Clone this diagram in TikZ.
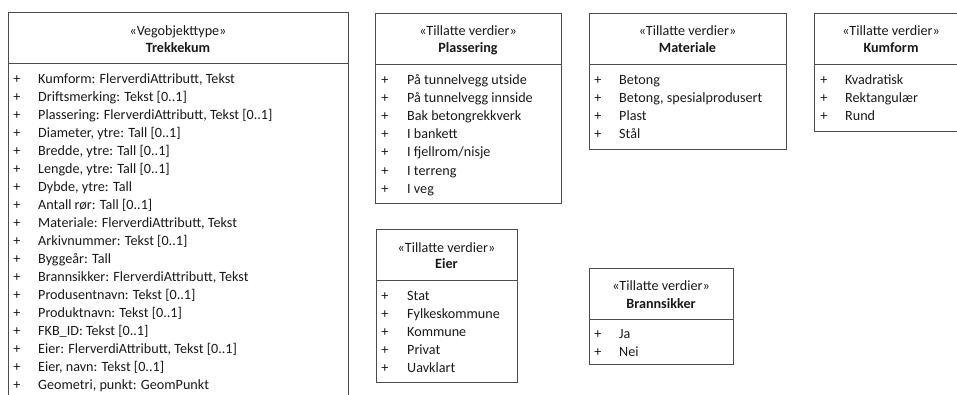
\documentclass[tikz,border=0pt]{standalone}
\usepackage{fontspec}
\setmainfont{Carlito}

\begin{document}
\begin{tikzpicture}[x=1bp, y=-1bp,
    every node/.style={inner sep=0pt, font=\fontsize{14.2}{17}\selectfont, text=black!90},
    frame/.style={draw=black!70, line width=0.9bp},
    stereo/.style={anchor=base},
    title/.style={anchor=base, font=\fontsize{14.2}{17}\selectfont\bfseries},
    plus/.style={anchor=base},
    item/.style={anchor=base west}]
  \useasboundingbox (0,0) rectangle (957,394);
  \clip (0,0) rectangle (957,394);

  % Trekkekum
  \draw[frame] (8,12) rectangle (348,410);
  \draw[frame] (8,63) -- (348,63);
  \node[stereo] (trek-st) at (178,35) {«Vegobjekttype»};
  \node[title] (trek-nm) at (178,52) {Trekkekum};
  \foreach \txt [count=\i from 0] in {{Kumform: FlerverdiAttributt, Tekst}, {Driftsmerking: Tekst [0..1]},
      {Plassering: FlerverdiAttributt, Tekst [0..1]}, {Diameter, ytre: Tall [0..1]},
      {Bredde, ytre: Tall [0..1]}, {Lengde, ytre: Tall [0..1]}, {Dybde, ytre: Tall},
      {Antall rør: Tall [0..1]}, {Materiale: FlerverdiAttributt, Tekst}, {Arkivnummer: Tekst [0..1]},
      {Byggeår: Tall}, {Brannsikker: FlerverdiAttributt, Tekst}, {Produsentnavn: Tekst [0..1]},
      {Produktnavn: Tekst [0..1]}, {FKB\_ID: Tekst [0..1]}, {Eier: FlerverdiAttributt, Tekst [0..1]},
      {Eier, navn: Tekst [0..1]}, {Geometri, punkt: GeomPunkt}} {
    \node[plus] (trek-p\i) at (17,83+18*\i) {+};
    \node[item] (trek-\i) at (38,83+18*\i) {\txt};
  }

  % Plassering
  \draw[frame] (375,13) rectangle (561,203);
  \draw[frame] (375,64) -- (561,64);
  \node[stereo] (plass-st) at (468,35) {«Tillatte verdier»};
  \node[title] (plass-nm) at (468,52) {Plassering};
  \foreach \txt [count=\i from 0] in {På tunnelvegg utside, På tunnelvegg innside, Bak betongrekkverk,
      I bankett, I fjellrom/nisje, I terreng, I veg} {
    \node[plus] (plass-p\i) at (385,84+18.2*\i) {+};
    \node[item] (plass-\i) at (407,84+18.2*\i) {\txt};
  }

  % Materiale
  \draw[frame] (589,13) rectangle (786,149);
  \draw[frame] (589,64) -- (786,64);
  \node[stereo] (mat-st) at (687.5,35) {«Tillatte verdier»};
  \node[title] (mat-nm) at (687.5,52) {Materiale};
  \foreach \txt [count=\i from 0] in {Betong, {Betong, spesialprodusert}, Plast, Stål} {
    \node[plus] (mat-p\i) at (598,84+18.2*\i) {+};
    \node[item] (mat-\i) at (619,84+18.2*\i) {\txt};
  }

  % Kumform
  \draw[frame] (814,13) rectangle (968,131);
  \draw[frame] (814,64) -- (968,64);
  \node[stereo] (kum-st) at (891,35) {«Tillatte verdier»};
  \node[title] (kum-nm) at (891,52) {Kumform};
  \foreach \txt [count=\i from 0] in {Kvadratisk, Rektangulær, Rund} {
    \node[plus] (kum-p\i) at (824,84+18.2*\i) {+};
    \node[item] (kum-\i) at (845,84+18.2*\i) {\txt};
  }

  % Eier
  \draw[frame] (376,229) rectangle (517,382);
  \draw[frame] (376,280) -- (517,280);
  \node[stereo] (eier-st) at (446.5,252) {«Tillatte verdier»};
  \node[title] (eier-nm) at (446.5,268) {Eier};
  \foreach \txt [count=\i from 0] in {Stat, Fylkeskommune, Kommune, Privat, Uavklart} {
    \node[plus] (eier-p\i) at (385,300+18.2*\i) {+};
    \node[item] (eier-\i) at (407,300+18.2*\i) {\txt};
  }

  % Brannsikker
  \draw[frame] (589,268) rectangle (733,364);
  \draw[frame] (589,319) -- (733,319);
  \node[stereo] (brann-st) at (661,290) {«Tillatte verdier»};
  \node[title] (brann-nm) at (661,308) {Brannsikker};
  \foreach \txt [count=\i from 0] in {Ja, Nei} {
    \node[plus] (brann-p\i) at (598,338+18.2*\i) {+};
    \node[item] (brann-\i) at (619,338+18.2*\i) {\txt};
  }
\end{tikzpicture}
\end{document}
